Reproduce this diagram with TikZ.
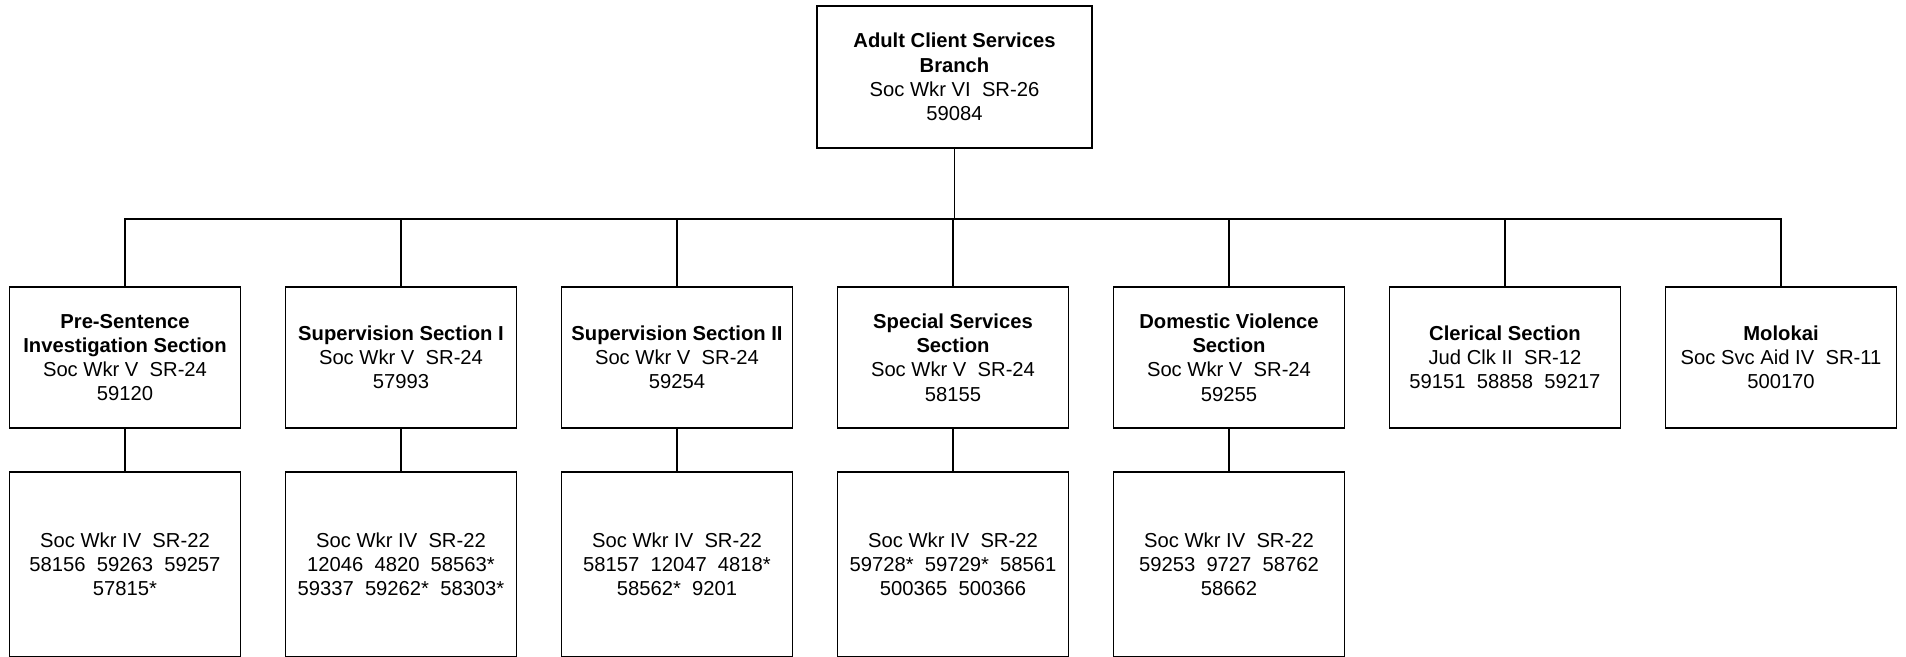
\documentclass[tikz,border=0pt]{standalone}
\usepackage{fontspec}
\setmainfont{Liberation Sans}
\usetikzlibrary{positioning}

\begin{document}
\begin{tikzpicture}[
    node distance=0.88cm and 0.9cm,
    every node/.style={font=\fontsize{11.5}{13.8}\selectfont},
    box/.style={rectangle, draw, line width=1pt, outer sep=0pt, inner sep=2pt,
                minimum width=4.62cm, minimum height=2.82cm, align=center},
    headbox/.style={box, minimum width=5.5cm, minimum height=2.84cm},
    staffbox/.style={box, minimum height=3.7cm},
    link/.style={line width=0.6pt}
  ]
  \useasboundingbox (0,0) rectangle (38.12,-13.12);

  \node[headbox] (branch) at (19.09,-1.54) {\textbf{Adult Client Services}\\\textbf{Branch}\\Soc Wkr VI\ \ SR-26\\59084};

  \node[box] (psi) at (2.5,-7.15) {\textbf{Pre-Sentence}\\\textbf{Investigation Section}\\Soc Wkr V\ \ SR-24\\59120};
  \node[box, right=of psi] (sup1) {\textbf{Supervision Section I}\\Soc Wkr V\ \ SR-24\\57993};
  \node[box, right=of sup1] (sup2) {\textbf{Supervision Section II}\\Soc Wkr V\ \ SR-24\\59254};
  \node[box, right=of sup2] (spec) {\textbf{Special Services}\\\textbf{Section}\\Soc Wkr V\ \ SR-24\\58155};
  \node[box, right=of spec] (dv) {\textbf{Domestic Violence}\\\textbf{Section}\\Soc Wkr V\ \ SR-24\\59255};
  \node[box, right=of dv] (cler) {\textbf{Clerical Section}\\Jud Clk II\ \ SR-12\\59151\ \ 58858\ \ 59217};
  \node[box, right=of cler] (molo) {\textbf{Molokai}\\Soc Svc Aid IV\ \ SR-11\\500170};

  \node[staffbox, below=of psi] (psiW) {Soc Wkr IV\ \ SR-22\\58156\ \ 59263\ \ 59257\\57815*};
  \node[staffbox, below=of sup1] (sup1W) {Soc Wkr IV\ \ SR-22\\12046\ \ 4820\ \ 58563*\\59337\ \ 59262*\ \ 58303*};
  \node[staffbox, below=of sup2] (sup2W) {Soc Wkr IV\ \ SR-22\\58157\ \ 12047\ \ 4818*\\58562*\ \ 9201};
  \node[staffbox, below=of spec] (specW) {Soc Wkr IV\ \ SR-22\\59728*\ \ 59729*\ \ 58561\\500365\ \ 500366};
  \node[staffbox, below=of dv] (dvW) {Soc Wkr IV\ \ SR-22\\59253\ \ 9727\ \ 58762\\58662};

  \foreach \s in {psi,sup1,sup2,spec,dv,cler,molo}
    \draw[link] (\s.north) -- ++(0,1.36) -| (branch.south);
  \foreach \s in {psi,sup1,sup2,spec,dv}
    \draw[link] (\s) -- (\s W);
\end{tikzpicture}
\end{document}
